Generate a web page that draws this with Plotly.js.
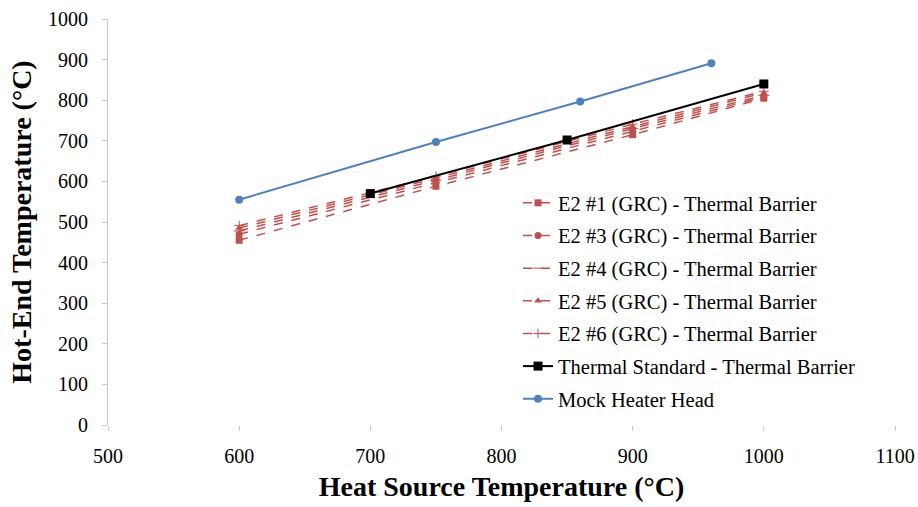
<!DOCTYPE html>
<html>
<head>
<meta charset="utf-8">
<script src="https://cdn.plot.ly/plotly-3.0.1.min.js"></script>
<style>html,body{margin:0;padding:0;background:#fff;}#chart{width:918px;height:507px;}</style>
</head>
<body>
<div id="chart"></div>
<script>
// Data
var e2X = [600, 750, 900, 1000];
var e2_1 = [455, 588, 715, 805];
var e2_3 = [470, 597, 724, 808];
var e2_4 = [478, 603, 730, 812];
var e2_5 = [485, 608, 735, 818];
var e2_6 = [491, 613, 741, 822];
var stdX = [700, 850, 1000];
var stdY = [570, 702, 840];
var mockX = [600, 750, 860, 960];
var mockY = [555, 697, 797, 891];
var xTicks = [500, 600, 700, 800, 900, 1000, 1100];
var yTicks = [0, 100, 200, 300, 400, 500, 600, 700, 800, 900, 1000];

var red = '#C0504D';
function e2(name, y, sym, size, g) {
  return {x: e2X, y: y, name: name, type: 'scatter', mode: 'lines+markers',
    legendgroup: g,
    line: {color: red, width: 1.5, dash: 'dash'},
    marker: {color: red, symbol: sym, size: size}};
}
var traces = [
  e2('E2 #1 (GRC) - Thermal Barrier', e2_1, 'square', 7, 'a'),
  e2('E2 #3 (GRC) - Thermal Barrier', e2_3, 'circle', 7, 'b'),
  e2('E2 #4 (GRC) - Thermal Barrier', e2_4, 'line-ew-open', 8, 'c'),
  e2('E2 #5 (GRC) - Thermal Barrier', e2_5, 'triangle-up', 7, 'd'),
  e2('E2 #6 (GRC) - Thermal Barrier', e2_6, 'cross-thin-open', 7, 'e'),
  {x: stdX, y: stdY, name: 'Thermal Standard - Thermal Barrier', type: 'scatter', mode: 'lines+markers',
    legendgroup: 'f',
    line: {color: '#000000', width: 2}, marker: {color: '#000000', symbol: 'square', size: 9}},
  {x: mockX, y: mockY, name: 'Mock Heater Head', type: 'scatter', mode: 'lines+markers',
    legendgroup: 'g',
    line: {color: '#4F81BD', width: 2}, marker: {color: '#4F81BD', symbol: 'circle', size: 8}}
];
var serif = 'Liberation Serif';
var layout = {
  width: 918, height: 507,
  margin: {l: 108, r: 23, t: 19, b: 82},
  paper_bgcolor: '#fff', plot_bgcolor: '#fff',
  font: {family: serif, color: '#000', size: 20},
  showlegend: true,
  legend: {x: 0.521, y: 0.596, xanchor: 'left', yanchor: 'top',
    traceorder: 'grouped', tracegroupgap: 3, itemwidth: 30,
    font: {family: serif, size: 20.5, color: '#000'}, bgcolor: 'rgba(0,0,0,0)'},
  xaxis: {range: [500, 1100], tickvals: xTicks, ticktext: xTicks.map(String),
    showgrid: false, zeroline: false, showline: false,
    ticks: 'outside', ticklen: 5, tickcolor: '#c8c8c8', ticklabelstandoff: 8,
    tickfont: {family: serif, size: 20, color: '#000'},
    title: {text: '<b>Heat Source Temperature (°C)</b>', font: {family: serif, size: 28, color: '#000'}, standoff: 10}},
  yaxis: {range: [0, 1000], tickvals: yTicks, ticktext: yTicks.map(String),
    showgrid: false, zeroline: false, showline: true, linecolor: '#c8c8c8', linewidth: 1,
    ticks: 'outside', ticklen: 5, tickcolor: '#c8c8c8', ticklabelstandoff: 10,
    tickfont: {family: serif, size: 20, color: '#000'},
    title: {text: '<b>Hot-End Temperature (°C)</b>', font: {family: serif, size: 28, color: '#000'}, standoff: 8}}
};
Plotly.newPlot('chart', traces, layout, {displayModeBar: false, staticPlot: true});
</script>
</body>
</html>
